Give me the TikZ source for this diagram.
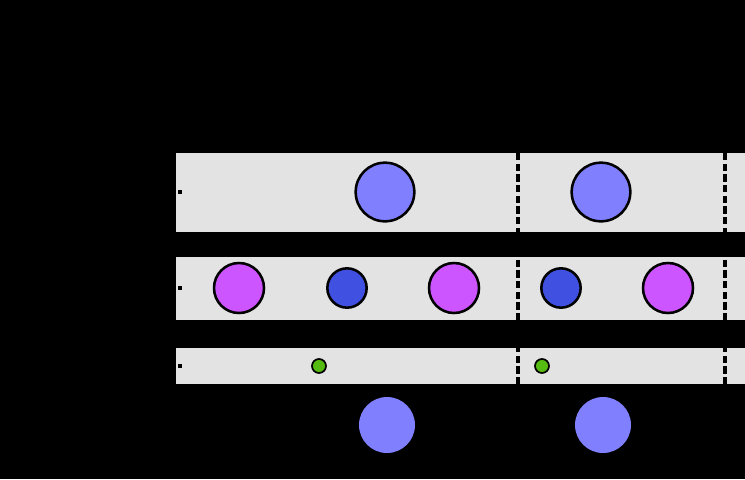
\documentclass[tikz,border=0pt]{standalone}
\usepackage{xcolor}
\usepackage{tikz}
\usetikzlibrary{positioning}
\definecolor{bandgray}{RGB}{227,227,227}
\definecolor{bigblue}{RGB}{128,128,255}
\definecolor{midmag}{RGB}{204,85,255}
\definecolor{midblue}{RGB}{64,80,224}
\definecolor{smallgreen}{RGB}{85,187,17}
\tikzset{
  band/.style={fill=bandgray, draw=none},
  bigdot/.style={circle, draw=black, line width=1.9pt, fill=bigblue,
    minimum size=44pt, inner sep=0pt},
  magdot/.style={circle, draw=black, line width=1.9pt, fill=midmag,
    minimum size=37.5pt, inner sep=0pt},
  bluedot/.style={circle, draw=black, line width=1.9pt, fill=midblue,
    minimum size=29.5pt, inner sep=0pt},
  greendot/.style={circle, draw=black, line width=1.3pt, fill=smallgreen,
    minimum size=10.5pt, inner sep=0pt},
  ghostdot/.style={circle, draw=none, fill=bigblue,
    minimum size=42pt, inner sep=0pt},
  tickmark/.style={fill=black, draw=none, minimum size=3pt, inner sep=0pt},
  sep/.style={line width=3pt, dash pattern=on 5.5pt off 2.5pt},
}
\begin{document}
\begin{tikzpicture}[x=0.75pt, y=-0.75pt]

% background and bands
\fill[black] (0,0) rectangle (745,479);
\fill[band] (176,153) rectangle (745,232);
\fill[band] (176,257) rectangle (745,320);
\fill[band] (176,348) rectangle (745,384);

% left tick marks
\node[tickmark] (tA) at (180,192) {};
\node[tickmark] (tB) at (180,288) {};
\node[tickmark] (tC) at (180,366) {};

% separators
\coordinate (s1top) at (518,153);
\coordinate (s1bot) at (518,384);
\coordinate (s2top) at (725,153);
\coordinate (s2bot) at (725,384);
\draw[sep] (s1top) -- (s1bot);
\draw[sep] (s2top) -- (s2bot);

% top band
\node[bigdot] (b1) at (385,192) {};
\node[bigdot] (b2) at (601,192) {};

% middle band
\node[magdot] (m1) at (239,288) {};
\node[bluedot] (d1) at (347,288) {};
\node[magdot] (m2) at (454,288) {};
\node[bluedot] (d2) at (561,288) {};
\node[magdot] (m3) at (668,288) {};

% bottom band
\node[greendot] (g1) at (319,366) {};
\node[greendot] (g2) at (542,366) {};

% below
\node[ghostdot] (o1) at (387,425) {};
\node[ghostdot] (o2) at (603,425) {};

\end{tikzpicture}
\end{document}
